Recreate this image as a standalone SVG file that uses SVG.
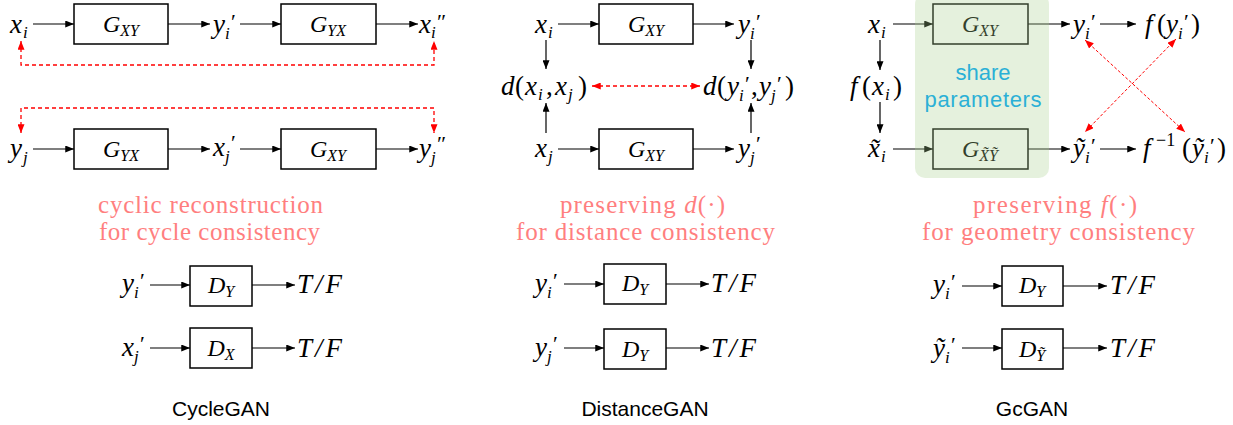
<svg xmlns="http://www.w3.org/2000/svg" width="1233" height="425" viewBox="0 0 1233 425">
<style>
.v{font-family:"Liberation Serif",serif;font-style:italic;font-size:27px;fill:#000}
.s{font-size:17px}
.p{font-size:22px;font-style:normal}
.u{font-style:normal}
.g{font-family:"Liberation Serif",serif;font-style:italic;font-size:24px;fill:#000}
.gs{font-size:16px}
.box{fill:#fff;stroke:#000;stroke-width:1.5}
.ln{fill:none;stroke:#000;stroke-width:1.2}
.rd{fill:none;stroke:#ff0000;stroke-width:1.3;stroke-dasharray:4 3}
.rt{fill:none;stroke:#ff0000;stroke-width:1;stroke-dasharray:3 2}
.cap{font-family:"Liberation Serif",serif;font-size:25px;fill:#ff7f7f}
.nm{font-family:"Liberation Sans",sans-serif;font-size:21px;fill:#000}
.sh{font-family:"Liberation Sans",sans-serif;font-size:22px;fill:#2bb0d6}
</style>
<defs>
<marker id="ab" viewBox="0 0 10 8" refX="10" refY="4" markerWidth="9" markerHeight="7" markerUnits="userSpaceOnUse" orient="auto-start-reverse"><path d="M0,0L10,4L0,8z" fill="#000"/></marker>
<marker id="ar" viewBox="0 0 10 8" refX="10" refY="4" markerWidth="9" markerHeight="7" markerUnits="userSpaceOnUse" orient="auto-start-reverse"><path d="M0,0L10,4L0,8z" fill="#ff0000"/></marker>
</defs>

<g id="connectors">
<!-- CycleGAN -->
<path class="ln" d="M33,24H74" marker-end="url(#ab)"/>
<path class="ln" d="M168,24H210" marker-end="url(#ab)"/>
<path class="ln" d="M240,24H281" marker-end="url(#ab)"/>
<path class="ln" d="M376,24H418" marker-end="url(#ab)"/>
<path class="ln" d="M33,149H74" marker-end="url(#ab)"/>
<path class="ln" d="M168,149H210" marker-end="url(#ab)"/>
<path class="ln" d="M240,149H281" marker-end="url(#ab)"/>
<path class="ln" d="M376,149H418" marker-end="url(#ab)"/>
<path class="rd" d="M21,41V65H434V41" marker-start="url(#ar)" marker-end="url(#ar)"/>
<path class="rd" d="M21,133V108H434V133" marker-start="url(#ar)" marker-end="url(#ar)"/>
<path class="ln" d="M150,285H190" marker-end="url(#ab)"/>
<path class="ln" d="M252,285H295" marker-end="url(#ab)"/>
<path class="ln" d="M150,348H190" marker-end="url(#ab)"/>
<path class="ln" d="M252,348H295" marker-end="url(#ab)"/>
<!-- DistanceGAN -->
<path class="ln" d="M558,24H599" marker-end="url(#ab)"/>
<path class="ln" d="M693,24H734" marker-end="url(#ab)"/>
<path class="ln" d="M558,149H599" marker-end="url(#ab)"/>
<path class="ln" d="M693,149H734" marker-end="url(#ab)"/>
<path class="ln" d="M546,40V69" marker-end="url(#ab)"/>
<path class="ln" d="M751,40V69" marker-end="url(#ab)"/>
<path class="ln" d="M546,133V103" marker-end="url(#ab)"/>
<path class="ln" d="M751,133V103" marker-end="url(#ab)"/>
<path class="rd" d="M592,86H700" marker-start="url(#ar)" marker-end="url(#ar)"/>
<path class="ln" d="M564,284H604" marker-end="url(#ab)"/>
<path class="ln" d="M666,284H709" marker-end="url(#ab)"/>
<path class="ln" d="M564,348H604" marker-end="url(#ab)"/>
<path class="ln" d="M666,348H709" marker-end="url(#ab)"/>
<!-- GcGAN -->
<path class="ln" d="M893,24H933" marker-end="url(#ab)"/>
<path class="ln" d="M1028,24H1070" marker-end="url(#ab)"/>
<path class="ln" d="M1100,24H1136" marker-end="url(#ab)"/>
<path class="ln" d="M893,149H933" marker-end="url(#ab)"/>
<path class="ln" d="M1028,149H1070" marker-end="url(#ab)"/>
<path class="ln" d="M1100,149H1136" marker-end="url(#ab)"/>
<path class="ln" d="M880,40V70" marker-end="url(#ab)"/>
<path class="ln" d="M880,102V133" marker-end="url(#ab)"/>
<path class="rt" d="M1085,40L1185,132" marker-start="url(#ar)" marker-end="url(#ar)"/>
<path class="rt" d="M1176,39L1085,132" marker-start="url(#ar)" marker-end="url(#ar)"/>
<path class="ln" d="M962,286H1002" marker-end="url(#ab)"/>
<path class="ln" d="M1063,286H1107" marker-end="url(#ab)"/>
<path class="ln" d="M962,348H1002" marker-end="url(#ab)"/>
<path class="ln" d="M1063,348H1107" marker-end="url(#ab)"/>
</g>

<!-- ============ CycleGAN ============ -->
<g id="c-xi"><text class="v" x="10" y="33">x<tspan class="s" x="23" y="38">i</tspan></text></g>
<g id="c-gxy1"><rect class="box" x="74" y="4" width="94" height="40"/><text class="g" x="121" y="32" text-anchor="middle">G<tspan class="gs" dy="4">XY</tspan></text></g>
<g id="c-yi"><text class="v" x="213" y="33">y<tspan class="p" x="231" y="29">′</tspan><tspan class="s" x="225" y="39">i</tspan></text></g>
<g id="c-gyx1"><rect class="box" x="281" y="4" width="95" height="40"/><text class="g" x="328" y="32" text-anchor="middle">G<tspan class="gs" dy="4">YX</tspan></text></g>
<g id="c-xi2"><text class="v" x="419" y="33">x<tspan class="p" x="437" y="29">″</tspan><tspan class="s" x="431" y="38">i</tspan></text></g>
<g id="c-yj"><text class="v" x="10" y="157">y<tspan class="s" x="23" y="163">j</tspan></text></g>
<g id="c-gyx2"><rect class="box" x="74" y="129" width="94" height="40"/><text class="g" x="121" y="157" text-anchor="middle">G<tspan class="gs" dy="4">YX</tspan></text></g>
<g id="c-xj"><text class="v" x="213" y="156">x<tspan class="p" x="231" y="150">′</tspan><tspan class="s" x="225" y="162">j</tspan></text></g>
<g id="c-gxy2"><rect class="box" x="281" y="129" width="95" height="40"/><text class="g" x="328" y="157" text-anchor="middle">G<tspan class="gs" dy="4">XY</tspan></text></g>
<g id="c-yj2"><text class="v" x="419" y="157">y<tspan class="p" x="437" y="151">″</tspan><tspan class="s" x="431" y="163">j</tspan></text></g>
<g id="c-caption"><text class="cap" x="98" y="213" textLength="225">cyclic reconstruction</text><text class="cap" x="99" y="240" textLength="221">for cycle consistency</text></g>
<g id="c-dyin"><text class="v" x="122" y="292">y<tspan class="p" x="140" y="288">′</tspan><tspan class="s" x="134" y="298">i</tspan></text></g>
<g id="c-dy"><rect class="box" x="190" y="266" width="62" height="40"/><text class="g" x="221" y="293" text-anchor="middle">D<tspan class="gs" dy="4">Y</tspan></text></g>
<g id="c-tf1"><text class="v" x="297" y="293">T<tspan dx="3">/</tspan><tspan dx="3">F</tspan></text></g>
<g id="c-dxin"><text class="v" x="122" y="356">x<tspan class="p" x="140" y="351">′</tspan><tspan class="s" x="134" y="362">j</tspan></text></g>
<g id="c-dx"><rect class="box" x="190" y="328" width="62" height="40"/><text class="g" x="221" y="356" text-anchor="middle">D<tspan class="gs" dy="4">X</tspan></text></g>
<g id="c-tf2"><text class="v" x="297" y="357">T<tspan dx="3">/</tspan><tspan dx="3">F</tspan></text></g>
<g id="c-name"><text class="nm" x="221" y="416" text-anchor="middle">CycleGAN</text></g>

<!-- ============ DistanceGAN ============ -->
<g id="d-xi"><text class="v" x="535" y="33">x<tspan class="s" x="548" y="38">i</tspan></text></g>
<g id="d-gxy1"><rect class="box" x="599" y="4" width="94" height="40"/><text class="g" x="646" y="32" text-anchor="middle">G<tspan class="gs" dy="4">XY</tspan></text></g>
<g id="d-yi"><text class="v" x="738" y="33">y<tspan class="p" x="756" y="29">′</tspan><tspan class="s" x="750" y="39">i</tspan></text></g>
<g id="d-dx"><text class="v" x="501" y="95">d<tspan class="u" x="515">(</tspan><tspan x="525">x</tspan><tspan class="s" x="538" y="100">i</tspan><tspan class="u" x="546" y="95">,</tspan><tspan x="555">x</tspan><tspan class="s" x="568" y="100">j</tspan><tspan class="u" x="578" y="95">)</tspan></text></g>
<g id="d-dy"><text class="v" x="703" y="95">d<tspan class="u" x="717">(</tspan><tspan x="727">y</tspan><tspan class="p" x="745" y="91">′</tspan><tspan class="s" x="739" y="101">i</tspan><tspan class="u" x="751" y="95">,</tspan><tspan x="759">y</tspan><tspan class="p" x="777" y="91">′</tspan><tspan class="s" x="771" y="101">j</tspan><tspan class="u" x="785" y="95">)</tspan></text></g>
<g id="d-xj"><text class="v" x="535" y="157">x<tspan class="s" x="548" y="162">j</tspan></text></g>
<g id="d-gxy2"><rect class="box" x="599" y="129" width="94" height="40"/><text class="g" x="646" y="157" text-anchor="middle">G<tspan class="gs" dy="4">XY</tspan></text></g>
<g id="d-yj"><text class="v" x="738" y="157">y<tspan class="p" x="756" y="151">′</tspan><tspan class="s" x="750" y="163">j</tspan></text></g>
<g id="d-caption"><text class="cap" x="560" y="213" textLength="165">preserving <tspan font-style="italic">d</tspan>(·)</text><text class="cap" x="516" y="240" textLength="259">for distance consistency</text></g>
<g id="d-dyin1"><text class="v" x="535" y="292">y<tspan class="p" x="553" y="288">′</tspan><tspan class="s" x="547" y="298">i</tspan></text></g>
<g id="d-dy1"><rect class="box" x="604" y="264" width="62" height="40"/><text class="g" x="635" y="291" text-anchor="middle">D<tspan class="gs" dy="4">Y</tspan></text></g>
<g id="d-tf1"><text class="v" x="711" y="292">T<tspan dx="3">/</tspan><tspan dx="3">F</tspan></text></g>
<g id="d-dyin2"><text class="v" x="535" y="356">y<tspan class="p" x="553" y="351">′</tspan><tspan class="s" x="547" y="362">j</tspan></text></g>
<g id="d-dy2"><rect class="box" x="604" y="329" width="62" height="40"/><text class="g" x="635" y="357" text-anchor="middle">D<tspan class="gs" dy="4">Y</tspan></text></g>
<g id="d-tf2"><text class="v" x="711" y="357">T<tspan dx="3">/</tspan><tspan dx="3">F</tspan></text></g>
<g id="d-name"><text class="nm" x="645" y="416" text-anchor="middle">DistanceGAN</text></g>

<!-- ============ GcGAN ============ -->
<g id="g-xi"><text class="v" x="868" y="33">x<tspan class="s" x="881" y="38">i</tspan></text></g>
<g id="g-gxy"><rect class="box" x="933" y="4" width="95" height="40"/><text class="g" x="980" y="32" text-anchor="middle">G<tspan class="gs" dy="4">XY</tspan></text></g>
<g id="g-yi"><text class="v" x="1073" y="33">y<tspan class="p" x="1091" y="29">′</tspan><tspan class="s" x="1085" y="39">i</tspan></text></g>
<g id="g-fyi"><text class="v" x="1145" y="33">f<tspan class="u" x="1157">(</tspan><tspan x="1166">y</tspan><tspan class="p" x="1184" y="29">′</tspan><tspan class="s" x="1178" y="39">i</tspan><tspan class="u" x="1191" y="33">)</tspan></text></g>
<g id="g-fxi"><text class="v" x="850" y="95">f<tspan class="u" x="862">(</tspan><tspan x="872">x</tspan><tspan class="s" x="885" y="100">i</tspan><tspan class="u" x="893" y="95">)</tspan></text></g>
<g id="g-xti"><text class="v" x="868" y="157">x̃<tspan class="s" x="881" y="162">i</tspan></text></g>
<g id="g-gxtyt"><rect class="box" x="933" y="129" width="95" height="40"/><text class="g" x="980" y="157" text-anchor="middle">G<tspan class="gs" dy="4">X̃Ỹ</tspan></text></g>
<g id="g-yti"><text class="v" x="1073" y="157">ỹ<tspan class="p" x="1091" y="153">′</tspan><tspan class="s" x="1085" y="163">i</tspan></text></g>
<g id="g-finv"><text class="v" x="1143" y="157">f<tspan class="u" x="1156" y="146" font-size="18">−1</tspan><tspan class="u" x="1182" y="157">(</tspan><tspan x="1192">ỹ</tspan><tspan class="p" x="1210" y="153">′</tspan><tspan class="s" x="1204" y="163">i</tspan><tspan class="u" x="1217" y="157">)</tspan></text></g>
<g id="g-share"><rect x="915" y="-6" width="134" height="184" rx="10" fill="#a9d18e" fill-opacity="0.3"/><text class="sh" x="983" y="80" text-anchor="middle">share</text><text class="sh" x="983" y="107" text-anchor="middle" textLength="117">parameters</text></g>
<g id="g-caption"><text class="cap" x="973" y="213" textLength="164">preserving <tspan font-style="italic">f</tspan>(·)</text><text class="cap" x="922" y="240" textLength="273">for geometry consistency</text></g>
<g id="g-dyin1"><text class="v" x="933" y="293">y<tspan class="p" x="951" y="289">′</tspan><tspan class="s" x="945" y="299">i</tspan></text></g>
<g id="g-dy1"><rect class="box" x="1002" y="266" width="61" height="40"/><text class="g" x="1032" y="293" text-anchor="middle">D<tspan class="gs" dy="4">Y</tspan></text></g>
<g id="g-tf1"><text class="v" x="1110" y="294">T<tspan dx="3">/</tspan><tspan dx="3">F</tspan></text></g>
<g id="g-dyin2"><text class="v" x="933" y="357">ỹ<tspan class="p" x="951" y="352">′</tspan><tspan class="s" x="945" y="363">i</tspan></text></g>
<g id="g-dy2"><rect class="box" x="1002" y="329" width="61" height="40"/><text class="g" x="1032" y="357" text-anchor="middle">D<tspan class="gs" dy="4">Ỹ</tspan></text></g>
<g id="g-tf2"><text class="v" x="1110" y="357">T<tspan dx="3">/</tspan><tspan dx="3">F</tspan></text></g>
<g id="g-name"><text class="nm" x="1032" y="416" text-anchor="middle">GcGAN</text></g>
</svg>
